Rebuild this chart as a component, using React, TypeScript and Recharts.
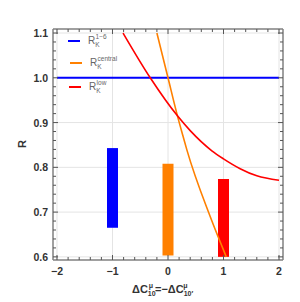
import React from 'react';
import { ComposedChart, Line, XAxis, YAxis, ReferenceLine } from 'recharts';

// ---- data ----
const xMajor = [-2, -1, 0, 1, 2];
const xTickLabels = ['−2', '−1', '0', '1', '2'];
const yMajor = [0.6, 0.7, 0.8, 0.9, 1.0, 1.1];
const yTickLabels = ['0.6', '0.7', '0.8', '0.9', '1.0', '1.1'];

const bandX = [-1, 0, 1];
const bandLow = [0.665, 0.603, 0.6];
const bandHigh = [0.843, 0.808, 0.774];
const bandColors = ['#0000ff', '#ff8000', '#ff0000'];

const flatX = [-2, 2];
const flatY = [1.0, 1.0];

const centralX = [-0.2, 0, 0.17, 0.27, 0.34, 0.76, 1.05];
const centralY = [1.1, 1.0, 0.915, 0.87, 0.839, 0.69, 0.6];

const lowX = [-0.81, -0.32, 0.17, 0.4, 0.79, 1.0, 1.3, 1.6, 2.0];
const lowY = [1.1, 1.0, 0.915, 0.882, 0.837, 0.819, 0.797, 0.781, 0.771];

// minor tick positions
const xMinor: number[] = [];
for (let i = -10; i <= 10; i++) xMinor.push(i / 5);
const yMinor: number[] = [];
for (let i = 30; i <= 55; i++) yMinor.push(i / 50);

const bandSeries = bandX.map((x, i) => [
  { x, y: bandLow[i] },
  { x, y: bandHigh[i] },
]);
const flatData = flatX.map((x, i) => ({ x, y: flatY[i] }));
const centralData = centralX.map((x, i) => ({ x, y: centralY[i] }));
const lowData = lowX.map((x, i) => ({ x, y: lowY[i] }));

const majorIndex = (v: number, arr: number[]) => arr.findIndex((m) => Math.abs(m - v) < 1e-6);

const FRAME = '#808080';
const TICK = '#555';
const FONT = '"Liberation Sans", Arial, sans-serif';

const BottomTick = (props: any) => {
  const { x, y, payload } = props;
  const idx = majorIndex(payload.value, xMajor);
  const len = idx >= 0 ? 5 : 3;
  return (
    <g>
      <line x1={x} x2={x} y1={y} y2={y - len} stroke={TICK} strokeWidth={1} />
      {idx >= 0 && (
        <text x={x} y={y + 15} textAnchor="middle" fontSize={10.5} fontWeight="bold" fill="#333" fontFamily={FONT}>
          {xTickLabels[idx]}
        </text>
      )}
    </g>
  );
};

const TopTick = (props: any) => {
  const { x, y, payload } = props;
  const idx = majorIndex(payload.value, xMajor);
  const len = idx >= 0 ? 5 : 3;
  return <line x1={x} x2={x} y1={y} y2={y + len} stroke={TICK} strokeWidth={1} />;
};

const LeftTick = (props: any) => {
  const { x, y, payload } = props;
  const idx = majorIndex(payload.value, yMajor);
  const len = idx >= 0 ? 5 : 3;
  return (
    <g>
      <line x1={x} x2={x + len} y1={y} y2={y} stroke={TICK} strokeWidth={1} />
      {idx >= 0 && (
        <text x={x - 5} y={y + 4} textAnchor="end" fontSize={10.5} fontWeight="bold" fill="#333" fontFamily={FONT}>
          {yTickLabels[idx]}
        </text>
      )}
    </g>
  );
};

const RightTick = (props: any) => {
  const { x, y, payload } = props;
  const idx = majorIndex(payload.value, yMajor);
  const len = idx >= 0 ? 5 : 3;
  return <line x1={x} x2={x - len} y1={y} y2={y} stroke={TICK} strokeWidth={1} />;
};

const legendItems = [
  { color: '#0000ff', sup: '1−6', x: 68, y: 41 },
  { color: '#ff8000', sup: 'central', x: 70, y: 63 },
  { color: '#ff0000', sup: 'low', x: 69, y: 87 },
];

export default function App() {
  return (
    <div style={{ position: 'absolute', left: 0, top: 0, width: 300, height: 302 }}>
      <ComposedChart width={300} height={302} margin={{ top: 28, right: 16, left: 20, bottom: 20 }}>
        {xMajor.map((v) => (
          <ReferenceLine key={'gx' + v} x={v} xAxisId="b" yAxisId="l" stroke="#e4e4e4" strokeWidth={1} />
        ))}
        {yMajor.map((v) => (
          <ReferenceLine key={'gy' + v} y={v} xAxisId="b" yAxisId="l" stroke="#e4e4e4" strokeWidth={1} />
        ))}
        <XAxis
          xAxisId="b"
          dataKey="x"
          type="number"
          orientation="bottom"
          domain={[-2.072, 2.072]}
          ticks={xMinor}
          interval={0}
          tickSize={0}
          tickMargin={0}
          tickLine={false}
          height={22}
          axisLine={{ stroke: FRAME, strokeWidth: 1.5 }}
          tick={<BottomTick />}
          allowDataOverflow
        />
        <XAxis
          xAxisId="t"
          dataKey="x"
          type="number"
          orientation="top"
          domain={[-2.072, 2.072]}
          ticks={xMinor}
          interval={0}
          tickSize={0}
          tickMargin={0}
          tickLine={false}
          height={1}
          axisLine={{ stroke: FRAME, strokeWidth: 1.5 }}
          tick={<TopTick />}
          allowDataOverflow
        />
        <YAxis
          yAxisId="l"
          type="number"
          orientation="left"
          domain={[0.593, 1.109]}
          ticks={yMinor}
          interval={0}
          tickSize={0}
          tickMargin={0}
          tickLine={false}
          width={33}
          axisLine={{ stroke: FRAME, strokeWidth: 1.5 }}
          tick={<LeftTick />}
          allowDataOverflow
        />
        <YAxis
          yAxisId="r"
          type="number"
          orientation="right"
          domain={[0.593, 1.109]}
          ticks={yMinor}
          interval={0}
          tickSize={0}
          tickMargin={0}
          tickLine={false}
          width={1}
          axisLine={{ stroke: FRAME, strokeWidth: 1.5 }}
          tick={<RightTick />}
          allowDataOverflow
        />
        {bandSeries.map((d, i) => (
          <Line
            key={'band' + i}
            xAxisId="b"
            yAxisId="l"
            data={d}
            dataKey="y"
            type="linear"
            stroke={bandColors[i]}
            strokeWidth={11}
            strokeLinecap="butt"
            dot={false}
            activeDot={false}
            isAnimationActive={false}
          />
        ))}
        <Line
          xAxisId="b"
          yAxisId="l"
          data={flatData}
          dataKey="y"
          type="linear"
          stroke="#0000ff"
          strokeWidth={2}
          dot={false}
          isAnimationActive={false}
        />
        <Line
          xAxisId="b"
          yAxisId="l"
          data={centralData}
          dataKey="y"
          type="monotone"
          stroke="#ff8000"
          strokeWidth={1.6}
          dot={false}
          isAnimationActive={false}
        />
        <Line
          xAxisId="b"
          yAxisId="l"
          data={lowData}
          dataKey="y"
          type="monotone"
          stroke="#ff0000"
          strokeWidth={1.6}
          dot={false}
          isAnimationActive={false}
        />
      </ComposedChart>
      <svg width={300} height={302} style={{ position: 'absolute', left: 0, top: 0, pointerEvents: 'none' }}>
        {legendItems.map((it, i) => (
          <g key={i}>
            <line x1={it.x} x2={it.x + 12} y1={it.y} y2={it.y} stroke={it.color} strokeWidth={2} />
            <text x={it.x + 20} y={it.y + 3} fontSize={10} fill="#666" fontFamily={FONT}>
              R
              <tspan fontSize={6.5} dy={3}>K</tspan>
              <tspan fontSize={6.5} dx={-4} dy={-8}>{it.sup}</tspan>
            </text>
          </g>
        ))}
        <text
          x={0}
          y={0}
          transform="translate(26,144) rotate(-90)"
          textAnchor="middle"
          fontSize={11}
          fontWeight="bold"
          fill="#333"
          fontFamily={FONT}
        >
          R
        </text>
        <text x={132} y={293} fontSize={11} fontWeight="bold" fill="#333" fontFamily={FONT}>
          ΔC
          <tspan fontSize={7} dy={3}>10</tspan>
          <tspan fontSize={7} dx={-7} dy={-8}>μ</tspan>
          <tspan dx={2} dy={5}>=−ΔC</tspan>
          <tspan fontSize={7} dy={3}>10′</tspan>
          <tspan fontSize={7} dx={-10} dy={-8}>μ</tspan>
        </text>
      </svg>
    </div>
  );
}
